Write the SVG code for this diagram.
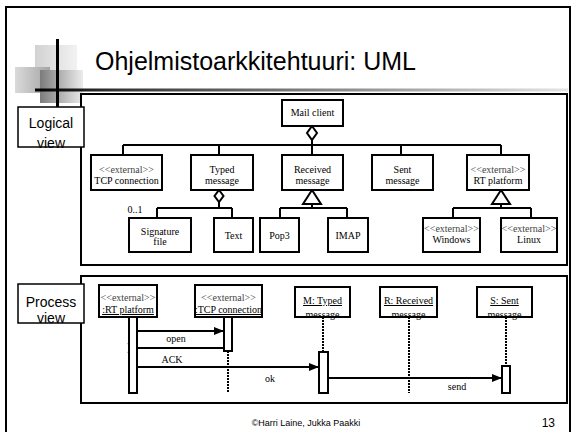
<svg xmlns="http://www.w3.org/2000/svg" width="572" height="432" viewBox="0 0 572 432">
<style>
.frame{fill:none;stroke:#000;stroke-width:2}
.panel{fill:#fff;stroke:#000;stroke-width:2}
.box{fill:#fff;stroke:#000;stroke-width:2}
.lbl{fill:#fff;stroke:#000;stroke-width:1.5}
.ln{fill:none;stroke:#000;stroke-width:2}
.life{fill:none;stroke:#000;stroke-width:2;stroke-dasharray:2 1}
.t{font-family:"Liberation Serif","Times New Roman",serif;font-size:10px;text-anchor:middle;fill:#000}
.st{fill:#444}
.u{text-decoration:underline}
.s{font-family:"Liberation Sans",Arial,sans-serif;fill:#000}
.view{font-size:14px;text-anchor:middle}
</style>
<defs>
<linearGradient id="gBar" x1="0" y1="0" x2="1" y2="0"><stop offset="0" stop-color="#000"/><stop offset="0.15" stop-color="#333"/><stop offset="1" stop-color="#e4e4e4"/></linearGradient>
<linearGradient id="gLight" x1="0" y1="0" x2="1" y2="0"><stop offset="0" stop-color="#d2d2d2"/><stop offset="1" stop-color="#f2f2f2"/></linearGradient>
<linearGradient id="gDith" x1="0" y1="0" x2="1" y2="0"><stop offset="0" stop-color="#dadada"/><stop offset="1" stop-color="#a4a4a4"/></linearGradient>
<linearGradient id="gDark" x1="0" y1="0" x2="1" y2="0"><stop offset="0" stop-color="#7c7c7c"/><stop offset="1" stop-color="#ececec"/></linearGradient>
<marker id="fa" markerUnits="userSpaceOnUse" markerWidth="12" markerHeight="10" refX="10" refY="4" orient="auto"><path d="M0,0 L10,4 L0,8 z" fill="#000"/></marker>
<marker id="oa" markerUnits="userSpaceOnUse" markerWidth="14" markerHeight="12" refX="1" refY="5" orient="auto"><path d="M11,0 L1,5 L11,10" fill="none" stroke="#000" stroke-width="2"/></marker>
</defs>

<rect class="frame" x="6" y="7" width="564" height="440"/>

<g id="header">
<rect x="35" y="45" width="42" height="46" fill="url(#gLight)"/>
<rect x="15" y="67" width="35" height="26" fill="url(#gDith)"/>
<rect x="40" y="70" width="43" height="33" fill="url(#gDark)"/>
<rect x="35" y="88.5" width="533" height="3" fill="url(#gBar)"/>
<rect x="56" y="39" width="3" height="68" fill="#000"/>
<text class="s" x="95" y="70" font-size="25">Ohjelmistoarkkitehtuuri: UML</text>
</g>

<rect class="panel" x="81" y="94" width="486" height="171"/>
<rect class="panel" x="81" y="276" width="486" height="127"/>

<g id="logical-view">
<rect class="lbl" x="18" y="107" width="66" height="40"/>
<text class="s view" x="51" y="128">Logical</text>
<text class="s view" x="51" y="148">view</text>
</g>
<g id="process-view">
<rect class="lbl" x="18" y="284" width="66" height="39"/>
<text class="s view" x="51" y="307">Process</text>
<text class="s view" x="51" y="323">view</text>
</g>

<g id="connectors">
<!-- Mail client aggregation -->
<path class="ln" d="M312,140 V155 M123,145 H501 M123,145 V155 M219,145 V155 M401,145 V155 M501,145 V155"/>
<path d="M312,126 L317,133 L312,140 L307,133 z" fill="#fff" stroke="#000" stroke-width="2"/>
<!-- Typed message aggregation -->
<path class="ln" d="M219,202 V208 M157,208 H232 M157,208 V218 M232,208 V218"/>
<path d="M219,190 L223.5,196 L219,202 L214.5,196 z" fill="#fff" stroke="#000" stroke-width="2"/>
<!-- Received generalization -->
<path class="ln" d="M312,204 V208 M280,208 H347 M280,208 V218 M347,208 V218"/>
<path d="M312,190 L321,204 L303,204 z" fill="#fff" stroke="#000" stroke-width="2"/>
<!-- RT platform generalization -->
<path class="ln" d="M501,204 V208 M453,208 H531 M453,208 V218 M531,208 V218"/>
<path d="M501,190 L510,204 L492,204 z" fill="#fff" stroke="#000" stroke-width="2"/>
<!-- lifelines -->
<path class="life" d="M228,351 V393 M323,317 V352 M409,317 V393 M506,317 V366"/>
<!-- messages -->
<line class="ln" x1="137" y1="331" x2="224" y2="331" marker-end="url(#fa)"/>
<line class="ln" x1="224" y1="348" x2="138" y2="348" marker-end="url(#oa)"/>
<line class="ln" x1="137" y1="367" x2="319" y2="367" marker-end="url(#fa)"/>
<line class="ln" x1="328" y1="378" x2="502" y2="378" marker-end="url(#fa)"/>
<text class="t" x="176" y="342" font-size="9">open</text>
<text class="t" x="172" y="363">ACK</text>
<text class="t" x="270" y="382">ok</text>
<text class="t" x="457" y="390">send</text>
<text class="t" x="135" y="213" font-size="7" text-anchor="start">0..1</text>
</g>

<g id="mail-client"><rect class="box" x="282" y="100" width="61" height="26"/><text class="t" x="312.5" y="116">Mail client</text></g>
<g id="tcp-connection"><rect class="box" x="91" y="155" width="71" height="35"/><text class="t st" x="126.5" y="173">&lt;&lt;external&gt;&gt;</text><text class="t" x="126.5" y="184">TCP connection</text></g>
<g id="typed-message"><rect class="box" x="191" y="155" width="62" height="35"/><text class="t" x="222" y="173">Typed</text><text class="t" x="222" y="184">message</text></g>
<g id="received-message"><rect class="box" x="282" y="155" width="61" height="35"/><text class="t" x="312.5" y="173">Received</text><text class="t" x="312.5" y="184">message</text></g>
<g id="sent-message"><rect class="box" x="372" y="155" width="61" height="35"/><text class="t" x="402.5" y="173">Sent</text><text class="t" x="402.5" y="184">message</text></g>
<g id="rt-platform"><rect class="box" x="467" y="155" width="62" height="35"/><text class="t st" x="498" y="173">&lt;&lt;external&gt;&gt;</text><text class="t" x="498" y="184">RT platform</text></g>
<g id="signature-file"><rect class="box" x="129" y="218" width="62" height="34"/><text class="t" x="160" y="235">Signature</text><text class="t" x="160" y="245">file</text></g>
<g id="text"><rect class="box" x="214" y="218" width="39" height="34"/><text class="t" x="233.5" y="239">Text</text></g>
<g id="pop3"><rect class="box" x="260" y="218" width="39" height="34"/><text class="t" x="279.5" y="239">Pop3</text></g>
<g id="imap"><rect class="box" x="328" y="218" width="40" height="34"/><text class="t" x="348" y="239">IMAP</text></g>
<g id="windows"><rect class="box" x="423" y="218" width="57" height="34"/><text class="t st" x="451.5" y="232">&lt;&lt;external&gt;&gt;</text><text class="t" x="451.5" y="243">Windows</text></g>
<g id="linux"><rect class="box" x="501" y="218" width="56" height="34"/><text class="t st" x="529" y="232">&lt;&lt;external&gt;&gt;</text><text class="t" x="529" y="243">Linux</text></g>

<g id="obj-rt-platform"><rect class="box" x="99" y="285" width="58" height="32"/><text class="t st" x="128" y="301">&lt;&lt;external&gt;&gt;</text><text class="t u" x="128" y="313">:RT platform</text><rect class="box" x="129" y="317" width="8" height="76"/></g>
<g id="obj-tcp-connection"><rect class="box" x="195" y="285" width="67" height="32"/><text class="t st" x="228.5" y="301">&lt;&lt;external&gt;&gt;</text><text class="t u" x="228.5" y="313" font-size="9">:TCP connection</text><rect class="box" x="224" y="317" width="8" height="34"/></g>
<g id="obj-typed-message"><rect class="box" x="295" y="287" width="55" height="30"/><text class="t u" x="322.5" y="304">M: Typed</text><text class="t" x="322.5" y="318">message</text><rect class="box" x="319" y="352" width="9" height="41"/></g>
<g id="obj-received-message"><rect class="box" x="380" y="287" width="57" height="30"/><text class="t u" x="408.5" y="304">R: Received</text><text class="t" x="408.5" y="318">message</text></g>
<g id="obj-sent-message"><rect class="box" x="477" y="287" width="55" height="30"/><text class="t u" x="504.5" y="304">S: Sent</text><text class="t" x="504.5" y="318">message</text><rect class="box" x="502" y="366" width="8" height="27"/></g>

<g id="footer">
<text class="s" x="306" y="426" font-size="9" text-anchor="middle">©Harri Laine, Jukka Paakki</text>
<text class="s" x="555" y="427" font-size="12" text-anchor="end">13</text>
</g>
</svg>
